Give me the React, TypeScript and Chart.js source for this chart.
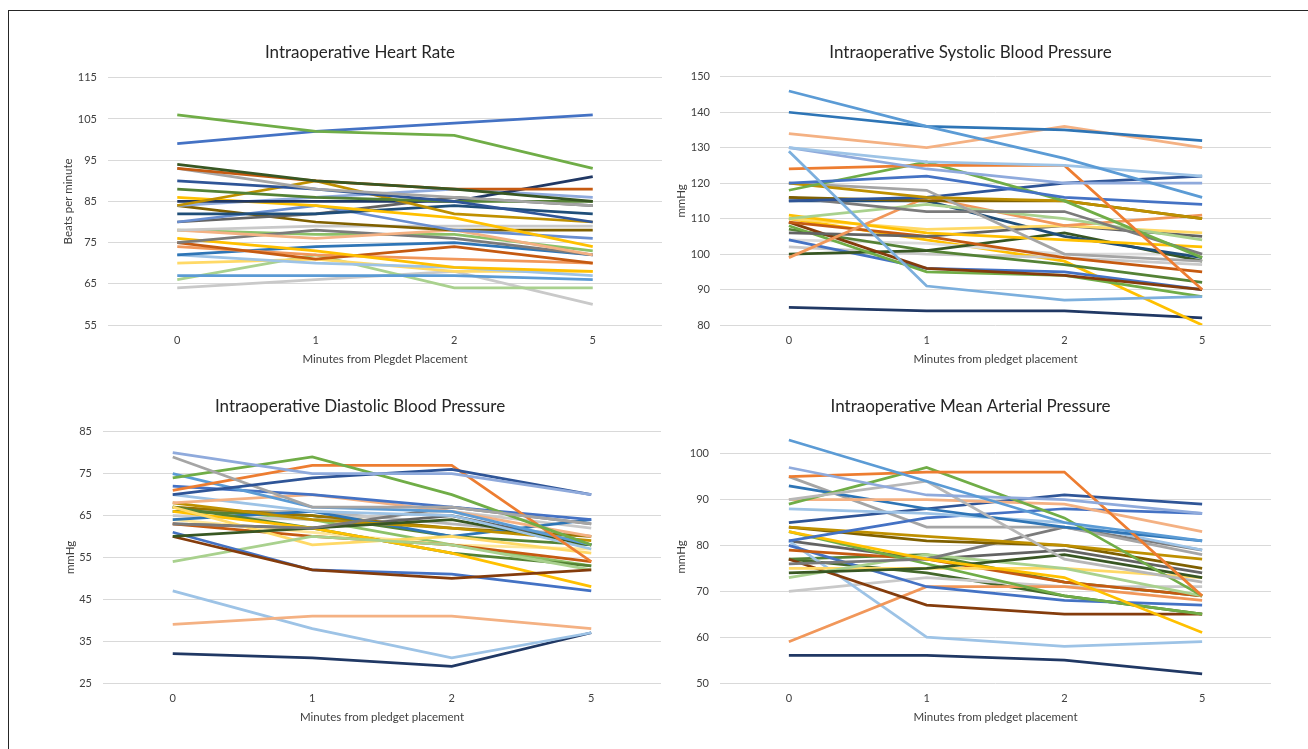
import React, { useEffect, useRef } from "react";
import { Chart, registerables } from "chart.js";

Chart.register(...registerables);

// Categories (x axis)
const minutes = ["0", "1", "2", "5"];

// ---------- Heart rate (beats per minute) ----------
const hrSeries: number[][] = [
  [106, 102, 101, 93],
  [99, 102, 104, 106],
  [94, 90, 88, 85],
  [93, 90, 88, 88],
  [93, 88, 86, 84],
  [90, 88, 85, 80],
  [88, 86, 85, 85],
  [84, 90, 82, 80],
  [85, 85, 85, 91],
  [86, 84, 81, 74],
  [84, 86, 88, 86],
  [82, 82, 84, 82],
  [80, 84, 78, 76],
  [80, 82, 86, 84],
  [84, 80, 78, 78],
  [78, 79, 79, 79],
  [78, 76, 78, 72],
  [75, 78, 76, 72],
  [78, 77, 77, 73],
  [76, 73, 69, 68],
  [75, 71, 74, 70],
  [74, 72, 71, 70],
  [72, 74, 75, 72],
  [72, 70, 69, 67],
  [70, 71, 68, 68],
  [67, 67, 67, 66],
  [66, 72, 64, 64],
  [64, 66, 68, 60],
];
const hrColors = [
  "#70AD47", "#4472C4", "#385723", "#C55A11", "#A5A5A5", "#2F5597", "#548235",
  "#BF9000", "#203864", "#FFC000", "#8FAADC", "#1F4E79", "#698ED0", "#636363",
  "#7F6000", "#C9C9C9", "#F4B183", "#7B7B7B", "#8CC168", "#FFC000", "#C55A11",
  "#F1975A", "#2E75B6", "#9DC3E6", "#FFD966", "#5B9BD5", "#A9D18E", "#C9C9C9",
];

// ---------- Systolic blood pressure (mmHg) ----------
const sbpSeries: number[][] = [
  [146, 136, 127, 116],
  [140, 136, 135, 132],
  [134, 130, 136, 130],
  [130, 126, 125, 122],
  [130, 124, 120, 120],
  [129, 91, 87, 88],
  [124, 125, 125, 90],
  [120, 122, 116, 114],
  [118, 126, 115, 99],
  [120, 116, 115, 110],
  [120, 118, 100, 98],
  [115, 116, 120, 122],
  [116, 115, 115, 110],
  [116, 112, 112, 100],
  [110, 114, 110, 104],
  [99, 116, 108, 111],
  [111, 106, 104, 102],
  [110, 107, 108, 106],
  [115, 115, 105, 99],
  [106, 105, 108, 105],
  [109, 105, 99, 95],
  [109, 96, 94, 90],
  [108, 95, 94, 88],
  [100, 101, 106, 98],
  [104, 96, 95, 90],
  [107, 101, 97, 92],
  [102, 100, 99, 97],
  [104, 103, 100, 100],
  [110, 104, 98, 80],
  [85, 84, 84, 82],
];
const sbpColors = [
  "#5B9BD5", "#2E75B6", "#F4B183", "#9DC3E6", "#8FAADC", "#7CAFDD", "#ED7D31",
  "#4472C4", "#70AD47", "#BF9000", "#A5A5A5", "#2F5597", "#7F6000", "#7B7B7B",
  "#A9D18E", "#F1975A", "#FFC000", "#FFD966", "#1F4E79", "#636363", "#C55A11",
  "#843C0C", "#70AD47", "#385723", "#4472C4", "#548235", "#C9C9C9", "#DBDBDB",
  "#FFC000", "#203864",
];

// ---------- Diastolic blood pressure (mmHg) ----------
const dbpSeries: number[][] = [
  [80, 75, 75, 70],
  [70, 74, 76, 70],
  [79, 67, 67, 63],
  [74, 79, 70, 58],
  [71, 77, 77, 54],
  [75, 67, 66, 58],
  [72, 70, 67, 64],
  [68, 70, 66, 60],
  [70, 66, 65, 57],
  [63, 62, 67, 63],
  [60, 62, 64, 58],
  [60, 52, 50, 52],
  [61, 52, 51, 47],
  [54, 60, 58, 52],
  [67, 58, 60, 56],
  [66, 62, 56, 48],
  [67, 62, 56, 53],
  [63, 60, 58, 54],
  [68, 64, 62, 59],
  [64, 66, 60, 64],
  [63, 62, 65, 58],
  [67, 65, 62, 60],
  [39, 41, 41, 38],
  [47, 38, 31, 37],
  [32, 31, 29, 37],
  [65, 64, 66, 62],
  [64, 61, 58, 57],
  [66, 65, 60, 58],
  [66, 66, 63, 60],
  [67, 64, 58, 53],
];
const dbpColors = [
  "#8FAADC", "#2F5597", "#A5A5A5", "#70AD47", "#ED7D31", "#5B9BD5", "#4472C4",
  "#F4B183", "#9DC3E6", "#7B7B7B", "#385723", "#843C0C", "#4472C4", "#A9D18E",
  "#FFD966", "#FFC000", "#548235", "#C55A11", "#BF9000", "#2E75B6", "#636363",
  "#997300", "#F4B183", "#9DC3E6", "#203864", "#C9C9C9", "#FFE699", "#548235",
  "#B7B7B7", "#8CC168",
];

// ---------- Mean arterial pressure (mmHg) ----------
const mapSeries: number[][] = [
  [103, 94, 85, 81],
  [97, 91, 90, 87],
  [95, 96, 96, 69],
  [90, 94, 77, 72],
  [89, 97, 86, 69],
  [90, 90, 89, 83],
  [93, 88, 84, 81],
  [88, 87, 85, 79],
  [85, 88, 91, 89],
  [81, 86, 88, 87],
  [95, 84, 84, 78],
  [84, 82, 80, 77],
  [84, 81, 80, 75],
  [83, 77, 73, 61],
  [76, 77, 84, 79],
  [74, 75, 78, 73],
  [83, 76, 69, 65],
  [73, 78, 75, 69],
  [75, 75, 75, 73],
  [79, 77, 72, 69],
  [77, 67, 65, 65],
  [80, 71, 68, 67],
  [59, 71, 71, 68],
  [81, 60, 58, 59],
  [56, 56, 55, 52],
  [70, 73, 71, 71],
  [77, 78, 72, 69],
  [81, 77, 79, 74],
  [77, 74, 69, 65],
];
const mapColors = [
  "#5B9BD5", "#8FAADC", "#ED7D31", "#B7B7B7", "#70AD47", "#F4B183", "#2E75B6",
  "#9DC3E6", "#2F5597", "#4472C4", "#A5A5A5", "#BF9000", "#7F6000", "#FFC000",
  "#7B7B7B", "#385723", "#70AD47", "#A9D18E", "#FFD966", "#C55A11", "#843C0C",
  "#4472C4", "#F1975A", "#9DC3E6", "#203864", "#C9C9C9", "#548235", "#636363",
  "#43682B",
];

const FONT = "Lato, 'Open Sans', sans-serif";
const TEXT = "#404040";

type PanelSpec = {
  title: string;
  xTitle: string;
  yTitle: string;
  series: number[][];
  colors: string[];
  yMin: number;
  yMax: number;
  left: number;
  top: number;
  width: number;
  height: number;
  padL: number;
  padR: number;
  yAxisWidth: number;
  yTickPad: number;
  yTitlePad: number;
  titlePadBottom: number;
  xAxisHeight: number;
  xTitlePadBottom: number;
};

const panels: PanelSpec[] = [
  {
    title: "Intraoperative Heart Rate",
    xTitle: "Minutes from Plegdet Placement",
    yTitle: "Beats per minute",
    series: hrSeries,
    colors: hrColors,
    yMin: 55,
    yMax: 115,
    left: 50,
    top: 30,
    width: 620,
    height: 355,
    padL: 8,
    padR: 8,
    yAxisWidth: 50,
    yTickPad: 11,
    yTitlePad: 3.4,
    titlePadBottom: 15.4,
    xAxisHeight: 60,
    xTitlePadBottom: 18.4,
  },
  {
    title: "Intraoperative Systolic Blood Pressure",
    xTitle: "Minutes from pledget placement",
    yTitle: "mmHg",
    series: sbpSeries,
    colors: sbpColors,
    yMin: 80,
    yMax: 150,
    left: 670,
    top: 30,
    width: 620,
    height: 355,
    padL: 0,
    padR: 19,
    yAxisWidth: 50,
    yTickPad: 10,
    yTitlePad: 4.4,
    titlePadBottom: 14.4,
    xAxisHeight: 60,
    xTitlePadBottom: 18.4,
  },
  {
    title: "Intraoperative Diastolic Blood Pressure",
    xTitle: "Minutes from pledget placement",
    yTitle: "mmHg",
    series: dbpSeries,
    colors: dbpColors,
    yMin: 25,
    yMax: 85,
    left: 50,
    top: 384,
    width: 620,
    height: 361,
    padL: 9,
    padR: 9,
    yAxisWidth: 44,
    yTickPad: 11,
    yTitlePad: 4.4,
    titlePadBottom: 15.4,
    xAxisHeight: 62,
    xTitlePadBottom: 20.4,
  },
  {
    title: "Intraoperative Mean Arterial Pressure",
    xTitle: "Minutes from pledget placement",
    yTitle: "mmHg",
    series: mapSeries,
    colors: mapColors,
    yMin: 50,
    yMax: 105,
    left: 670,
    top: 384,
    width: 620,
    height: 361,
    padL: 0,
    padR: 19,
    yAxisWidth: 50,
    yTickPad: 11,
    yTitlePad: 4.4,
    titlePadBottom: 14.4,
    xAxisHeight: 62,
    xTitlePadBottom: 20.4,
  },
];

function Panel({ spec }: { spec: PanelSpec }) {
  const ref = useRef<HTMLCanvasElement | null>(null);
  useEffect(() => {
    if (!ref.current) return;
    const chart = new Chart(ref.current, {
      type: "line",
      data: {
        labels: minutes,
        datasets: spec.series.map((values, i) => ({
          label: `Patient ${i + 1}`,
          data: values,
          borderColor: spec.colors[i % spec.colors.length],
          backgroundColor: spec.colors[i % spec.colors.length],
          borderWidth: 2.75,
          pointRadius: 0,
          pointHoverRadius: 0,
          fill: false,
          tension: 0,
        })),
      },
      options: {
        animation: false,
        responsive: false,
        maintainAspectRatio: false,
        layout: { padding: { left: spec.padL, right: spec.padR, top: 0, bottom: 0 } },
        plugins: {
          legend: { display: false },
          tooltip: { enabled: false },
          title: {
            display: true,
            text: spec.title,
            color: "#262626",
            font: { family: FONT, size: 17, weight: "normal", lineHeight: 1.2 },
            padding: { top: 12, bottom: spec.titlePadBottom },
          },
        },
        scales: {
          x: {
            type: "category",
            offset: true,
            grid: { display: false, drawTicks: false },
            border: { display: false },
            ticks: {
              color: TEXT,
              font: { family: FONT, size: 11 },
              padding: 9,
              maxRotation: 0,
            },
            title: {
              display: true,
              text: spec.xTitle,
              color: TEXT,
              font: { family: FONT, size: 11.5, lineHeight: 1.2 },
              padding: { top: 0, bottom: spec.xTitlePadBottom },
            },
            afterFit: (scale: any) => {
              scale.height = spec.xAxisHeight;
            },
          },
          y: {
            type: "linear",
            min: spec.yMin,
            max: spec.yMax,
            grid: { color: "#D9D9D9", lineWidth: 1, drawTicks: false },
            border: { display: false },
            ticks: {
              stepSize: 10,
              color: TEXT,
              font: { family: FONT, size: 11 },
              padding: spec.yTickPad,
            },
            title: {
              display: true,
              text: spec.yTitle,
              color: TEXT,
              font: { family: FONT, size: 11.5, lineHeight: 1.2 },
              padding: { top: spec.yTitlePad, bottom: 0 },
            },
            afterBuildTicks: (scale: any) => {
              scale.ticks = scale.ticks.filter(
                (t: any) => (t.value - spec.yMin) % 10 === 0
              );
            },
            afterFit: (scale: any) => {
              scale.width = spec.yAxisWidth;
            },
          },
        },
      },
    } as any);
    return () => chart.destroy();
  }, [spec]);
  return (
    <canvas
      ref={ref}
      width={spec.width}
      height={spec.height}
      style={{
        position: "absolute",
        left: spec.left,
        top: spec.top,
        width: spec.width,
        height: spec.height,
      }}
    />
  );
}

export default function App() {
  return (
    <div
      style={{
        position: "absolute",
        left: 0,
        top: 0,
        width: 1308,
        height: 749,
        background: "#ffffff",
        overflow: "hidden",
      }}
    >
      <div
        style={{
          position: "absolute",
          left: 8,
          top: 10,
          width: 1310,
          height: 750,
          borderLeft: "1.5px solid #262626",
          borderTop: "1.5px solid #262626",
          boxSizing: "border-box",
        }}
      />
      {panels.map((p, i) => (
        <Panel key={i} spec={p} />
      ))}
    </div>
  );
}
